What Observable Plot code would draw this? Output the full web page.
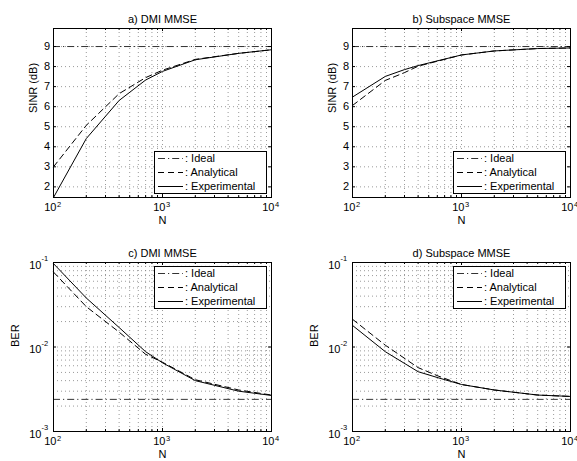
<!DOCTYPE html>
<html><head><meta charset="utf-8">
<script src="https://cdn.jsdelivr.net/npm/d3@7"></script>
<script src="https://cdn.jsdelivr.net/npm/@observablehq/plot@0.6"></script>
<style>
body{margin:0;background:#fff;}
#chart{position:relative;width:577px;height:461px;overflow:hidden;background:#fff;}
.panel{position:absolute;overflow:hidden;}
</style></head><body><div id="chart"></div>
<script>
const FONT = '"Liberation Sans", Arial, Helvetica, sans-serif';

// ---- text ----
const titles = ["a) DMI MMSE", "b) Subspace MMSE", "c) DMI MMSE", "d) Subspace MMSE"];
const yLabels = ["SINR (dB)", "SINR (dB)", "BER", "BER"];
const xLabel = "N";
const legendLabels = [": Ideal", ": Analytical", ": Experimental"];

// ---- ticks ----
const xTickValues = [100, 1000, 10000];
const xTickExponents = ["2", "3", "4"];
const xMinorValues = [200, 300, 400, 500, 600, 700, 800, 900, 2000, 3000, 4000, 5000, 6000, 7000, 8000, 9000];
const sinrTicks = [2, 3, 4, 5, 6, 7, 8, 9];
const berTickValues = [0.1, 0.01, 0.001];
const berTickExponents = ["-1", "-2", "-3"];
const berMinorValues = [0.002, 0.003, 0.004, 0.005, 0.006, 0.007, 0.008, 0.009,
                        0.02, 0.03, 0.04, 0.05, 0.06, 0.07, 0.08, 0.09];

// ---- data ----
const idealSINR = 9;
const idealBER = 0.0024;

const nA = [100, 200, 400, 700, 1000, 2000, 5000, 10000];
const analyticalA = [3.0, 5.07, 6.65, 7.45, 7.82, 8.36, 8.66, 8.84];
const experimentalA = [1.47, 4.41, 6.31, 7.33, 7.76, 8.34, 8.66, 8.84];

const nB = [100, 200, 300, 400, 1000, 2000, 5000, 10000];
const analyticalB = [6.06, 7.31, 7.7, 8.02, 8.58, 8.78, 8.9, 8.93];
const experimentalB = [6.48, 7.51, 7.85, 8.05, 8.58, 8.78, 8.9, 8.93];

const nC = [100, 200, 400, 700, 1000, 2000, 5000, 10000];
const analyticalC = [0.077, 0.030, 0.015, 0.0082, 0.0066, 0.0041, 0.0031, 0.0027];
const experimentalC = [0.097, 0.038, 0.017, 0.0088, 0.0065, 0.0040, 0.0030, 0.00267];

const nD = [100, 200, 400, 620, 1000, 2000, 5000, 10000];
const analyticalD = [0.0213, 0.0105, 0.0057, 0.0045, 0.0036, 0.0031, 0.0027, 0.0026];
const experimentalD = [0.018, 0.0088, 0.0051, 0.0043, 0.0036, 0.0031, 0.0027, 0.0026];

// ---- styles ----
const DASH_IDEAL = "7,3,1.2,3";
const DASH_ANALYTICAL = "6,4";
const GRID = {stroke: "#808080", strokeDasharray: "1,3", strokeWidth: 0.8};

function makePanel(cfg) {
  const {left, top, width, height, ml, mr, mt, mb, isBER, n, analytical, experimental, title, ylabel, legendBottom} = cfg;
  const fw = width - ml - mr, fh = height - mt - mb;
  const anaRows = n.map((N, i) => ({N, v: analytical[i]}));
  const expRows = n.map((N, i) => ({N, v: experimental[i]}));
  const yMajor = isBER ? berTickValues : sinrTicks;
  const yGrid = isBER ? berMinorValues.concat([0.01]) : sinrTicks;
  const marks = [
    Plot.ruleX(xMinorValues.concat([1000]), {x: d => d, ...GRID}),
    Plot.ruleY(yGrid, {y: d => d, ...GRID}),
    Plot.ruleY([isBER ? idealBER : idealSINR], {y: d => d, stroke: "#333", strokeWidth: 1, strokeDasharray: DASH_IDEAL}),
    Plot.line(anaRows, {x: "N", y: "v", stroke: "black", strokeWidth: 1, strokeDasharray: DASH_ANALYTICAL}),
    Plot.line(expRows, {x: "N", y: "v", stroke: "black", strokeWidth: 1}),
    // inward ticks
    Plot.tickX(xTickValues, {x: d => d, insetTop: fh - 3, stroke: "black"}),
    Plot.tickX(xTickValues, {x: d => d, insetBottom: fh - 3, stroke: "black"}),
    Plot.tickX(xMinorValues, {x: d => d, insetTop: fh - 2, stroke: "black"}),
    Plot.tickX(xMinorValues, {x: d => d, insetBottom: fh - 2, stroke: "black"}),
    Plot.tickY(yMajor, {y: d => d, insetRight: fw - 3, stroke: "black"}),
    Plot.tickY(yMajor, {y: d => d, insetLeft: fw - 3, stroke: "black"}),
    Plot.frame({stroke: "black", strokeWidth: 1}),
    // title & labels
    Plot.text([title], {frameAnchor: "top", dy: isBER ? -13.5 : -13, fontSize: 11, fill: "black"}),
    Plot.text([ylabel], {frameAnchor: "left", rotate: -90, dx: isBER ? -38 : -20, fontSize: 11, fill: "black"}),
    Plot.text([xLabel], {frameAnchor: "bottom", dy: 26, fontSize: 11, fill: "black"}),
    // x tick labels 10^k
    Plot.text(xTickValues, {x: d => d, text: () => "10", frameAnchor: "bottom", textAnchor: "end", dx: 3, dy: 13.7, fontSize: 11, fill: "black"}),
    Plot.text(xTickValues, {x: d => d, text: (d, i) => xTickExponents[i], frameAnchor: "bottom", textAnchor: "start", dx: 3.5, dy: 9.3, fontSize: 7.5, fill: "black"})
  ];
  if (isBER) {
    marks.push(
      Plot.text(berTickValues, {y: d => d, text: () => "10", frameAnchor: "left", textAnchor: "end", dx: -12, dy: 2.5, fontSize: 11, fill: "black"}),
      Plot.text(berTickValues, {y: d => d, text: (d, i) => berTickExponents[i], frameAnchor: "left", textAnchor: "start", dx: -12, dy: -3.5, fontSize: 7.5, fill: "black"})
    );
  } else {
    marks.push(
      Plot.text(sinrTicks, {y: d => d, text: d => String(d), frameAnchor: "left", textAnchor: "end", dx: -3.5, fontSize: 11, fill: "black"})
    );
  }
  const plot = Plot.plot({
    width, height,
    marginLeft: ml, marginRight: mr, marginTop: mt, marginBottom: mb,
    x: {type: "log", domain: [100, 10000], axis: null},
    y: isBER ? {type: "log", domain: [0.001, 0.1], axis: null} : {type: "linear", domain: [1.47, 9.9], axis: null},
    style: {fontFamily: FONT, fontSize: "11px", background: "white", color: "black", overflow: "visible"},
    marks
  });
  // legend box
  const svg = d3.select(plot);
  const lw = 112, lh = 42;
  const lx = ml + fw - 5 - lw;
  const ly = legendBottom ? mt + fh - 4 - lh : mt + 4;
  const g = svg.append("g").attr("font-family", FONT).attr("font-size", 11).attr("text-anchor", "start");
  g.append("rect").attr("x", lx + 0.5).attr("y", ly + 0.5).attr("width", lw).attr("height", lh)
    .attr("fill", "white").attr("stroke", "black").attr("stroke-width", 1);
  const dashes = [DASH_IDEAL, DASH_ANALYTICAL, null];
  const strokes = ["#333", "black", "black"];
  legendLabels.forEach((lab, i) => {
    const yy = ly + 7.5 + i * 14;
    const ln = g.append("line").attr("x1", lx + 4).attr("x2", lx + 29).attr("y1", yy).attr("y2", yy)
      .attr("stroke", strokes[i]).attr("stroke-width", 1);
    if (dashes[i]) ln.attr("stroke-dasharray", dashes[i]);
    g.append("text").attr("x", lx + 31).attr("y", yy).attr("dy", "0.36em")
      .attr("text-anchor", "start").style("white-space", "pre").attr("fill", "black").text(lab);
  });
  const div = document.createElement("div");
  div.className = "panel";
  div.style.left = left + "px"; div.style.top = top + "px";
  div.style.width = width + "px"; div.style.height = height + "px";
  div.appendChild(plot);
  document.getElementById("chart").appendChild(div);
}

makePanel({left: 0, top: 0, width: 288, height: 230, ml: 53, mr: 17, mt: 28, mb: 33, isBER: false,
  n: nA, analytical: analyticalA, experimental: experimentalA, title: titles[0], ylabel: yLabels[0], legendBottom: true});
makePanel({left: 288, top: 0, width: 289, height: 230, ml: 64, mr: 7, mt: 28, mb: 33, isBER: false,
  n: nB, analytical: analyticalB, experimental: experimentalB, title: titles[1], ylabel: yLabels[1], legendBottom: true});
makePanel({left: 0, top: 230, width: 288, height: 231, ml: 53, mr: 17, mt: 32, mb: 30, isBER: true,
  n: nC, analytical: analyticalC, experimental: experimentalC, title: titles[2], ylabel: yLabels[2], legendBottom: false});
makePanel({left: 288, top: 230, width: 289, height: 231, ml: 64, mr: 7, mt: 32, mb: 30, isBER: true,
  n: nD, analytical: analyticalD, experimental: experimentalD, title: titles[3], ylabel: yLabels[3], legendBottom: false});
</script></body></html>
